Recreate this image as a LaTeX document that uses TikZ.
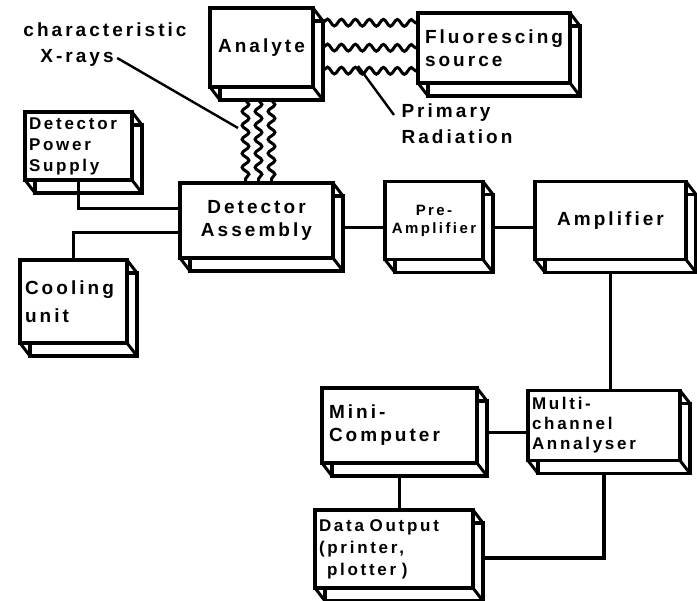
\documentclass[tikz,border=0pt]{standalone}
\usepackage{fontspec}
\newfontfamily\lettering{Liberation Sans}[LetterSpace=16]
\usetikzlibrary{decorations.pathmorphing, backgrounds}

\begin{document}
\begin{tikzpicture}[
    x=1pt, y=-1pt,
    blk/.style={draw, line width=3.6pt, fill=white, inner sep=6pt, outer sep=0pt,
                align=center, font=\lettering\bfseries\fontsize{19}{23}\selectfont},
    lbl/.style={font=\lettering\bfseries\fontsize{19}{26}\selectfont},
    wire/.style={line width=3.2pt},
    ptr/.style={line width=2.4pt},
    wave/.style={line width=3pt, decorate,
                 decoration={snake, amplitude=3.4pt, segment length=14pt}}
  ]
  \useasboundingbox (0,0) rectangle (697,601);

  % Boxes
  \node[blk, minimum width=103pt, minimum height=79pt] (ana) at (261.5,47.5) {Analyte};
  \node[blk, minimum width=152pt, minimum height=70pt, text width=138pt, align=left]
       (fluor) at (494,48) {Fluorescing\\source};
  \node[blk, minimum width=107pt, minimum height=68pt, text width=99pt, align=left, inner sep=2pt,
        font=\lettering\bfseries\fontsize{17}{21}\selectfont]
       (dps) at (78.5,146) {Detector\\Power\\Supply};
  \node[blk, minimum width=153pt, minimum height=75pt] (da) at (256.5,220.5) {Detector\\Assembly};
  \node[blk, minimum width=107pt, minimum height=83pt, text width=97pt, align=left, inner sep=5pt]
       (cool) at (73.5,301.5) {Cooling\\[5pt]unit};
  \node[blk, minimum width=98pt, minimum height=78pt, inner sep=3pt,
        font=\lettering\bfseries\fontsize{15}{18}\selectfont]
       (pre) at (434,220.5) {Pre-\\Amplifier};
  \node[blk, minimum width=151pt, minimum height=78pt] (amp) at (610.5,220.5) {Amplifier};
  \node[blk, minimum width=155pt, minimum height=75pt, text width=141pt, align=left]
       (mini) at (399.5,425.5) {Mini-\\Computer};
  \node[blk, minimum width=152pt, minimum height=70pt, text width=144pt, align=left, inner sep=2pt,
        font=\lettering\bfseries\fontsize{17}{20}\selectfont]
       (mca) at (604,425.5) {Multi-\\channel\\Annalyser};
  \node[blk, minimum width=158pt, minimum height=78pt, text width=150pt, align=left, inner sep=2pt,
        font=\lettering\bfseries\fontsize{17}{22}\selectfont]
       (dout) at (394,549) {Data Output\\(printer,\\\hspace*{8pt}plotter )};

  % Box depth
  \begin{scope}[on background layer]
    \foreach \n in {ana,fluor,dps,da,cool,pre,amp,mini,mca,dout}{
      \draw[line width=3.6pt, fill=white] ([shift={(10,13)}]\n.south west) rectangle ([shift={(10,13)}]\n.north east);
      \draw[line width=3pt] (\n.north east) -- ++(10,13) (\n.south west) -- ++(10,13)
                            (\n.south east) -- ++(10,13);
    }
  \end{scope}

  % Radiation
  \foreach \dy in {25,0,-23}
    \draw[wave] ([xshift=10pt,yshift=\dy pt]ana.east) -- ([yshift=\dy pt]fluor.west);
  \foreach \dx in {-16,-3,10}
    \draw[wave] ([xshift=\dx pt,yshift=-13pt]ana.south) -- ([xshift=\dx pt]ana.south |- da.north);

  % Labels
  \node[lbl] (char) at (105,30) {characteristic};
  \node[lbl] (xray) at (77,58) {X-rays};
  \node[lbl, align=left, anchor=west] (prim) at (398,124) {Primary\\Radiation};
  \coordinate (xhit) at (238,128);
  \coordinate (phit) at (358,66);
  \draw[ptr] (xray.east) -- (xhit);
  \draw[ptr] (phit) -- ([xshift=-4pt,yshift=9pt]prim.west);

  % Connections
  \draw[wire] (dps.south) |- ([yshift=12pt]da.west);
  \draw[wire] (cool.north) |- ([yshift=-12pt]da.west);
  \draw[wire] ([xshift=10pt,yshift=-7pt]da.east) -- ([yshift=-7pt]pre.west);
  \draw[wire] ([xshift=10pt,yshift=-7pt]pre.east) -- ([yshift=-7pt]amp.west);
  \draw[wire] ([yshift=-13pt]amp.south) -- (amp.south |- mca.north);
  \draw[wire] ([yshift=-7pt]mca.west) -- ([xshift=10pt,yshift=-7pt]mini.east);
  \draw[wire] ([yshift=-13pt]mini.south) -- (mini.south |- dout.north);
  \draw[wire] ([yshift=-13pt]mca.south) |- ([xshift=10pt,yshift=-9pt]dout.east);
\end{tikzpicture}
\end{document}
